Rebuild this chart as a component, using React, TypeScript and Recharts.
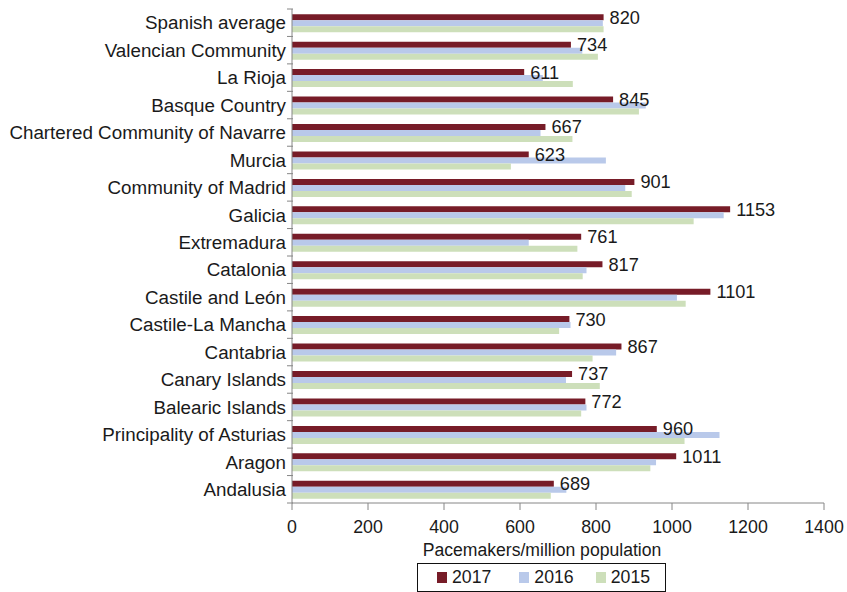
import React from "react";
import {
  BarChart,
  Bar,
  XAxis,
  YAxis,
  Legend,
  LabelList,
} from "recharts";

const regions = [
  "Spanish average",
  "Valencian Community",
  "La Rioja",
  "Basque Country",
  "Chartered Community of Navarre",
  "Murcia",
  "Community of Madrid",
  "Galicia",
  "Extremadura",
  "Catalonia",
  "Castile and León",
  "Castile-La Mancha",
  "Cantabria",
  "Canary Islands",
  "Balearic Islands",
  "Principality of Asturias",
  "Aragon",
  "Andalusia",
];

const years = ["2017", "2016", "2015"];

const values2017 = [820, 734, 611, 845, 667, 623, 901, 1153, 761, 817, 1101, 730, 867, 737, 772, 960, 1011, 689];
const values2016 = [818, 764, 660, 931, 654, 826, 877, 1136, 623, 775, 1013, 733, 853, 721, 775, 1125, 958, 722];
const values2015 = [820, 805, 739, 913, 738, 576, 894, 1057, 751, 765, 1036, 703, 791, 810, 761, 1033, 943, 681];

const xTicks = [0, 200, 400, 600, 800, 1000, 1200, 1400];

const FONT = "'Liberation Sans', Arial, sans-serif";
const TEXT = "#1a1a1a";
const AXIS = "#868686";

const chartData = regions.map((name, i) => ({
  name,
  y2017: values2017[i],
  y2016: values2016[i],
  y2015: values2015[i],
}));

// excel-style: tick marks sit on the band edges, labels in the middle
function RegionTick(props: any) {
  const { x, y, payload, index } = props;
  const half = payload && payload.offset ? payload.offset : 13.7;
  return (
    <g>
      <text
        x={x}
        y={y}
        dy="0.36em"
        textAnchor="end"
        fill={TEXT}
        fontSize={18.8}
        fontFamily={FONT}
      >
        {payload.value}
      </text>
      <line x1={x + 1} x2={x + 7} y1={y - half} y2={y - half} stroke={AXIS} />
      {index === regions.length - 1 && (
        <line x1={x + 1} x2={x + 7} y1={y + half} y2={y + half} stroke={AXIS} />
      )}
    </g>
  );
}

function LegendBox(props: any) {
  const items = [...(props.payload || [])].sort(
    (a: any, b: any) => years.indexOf(a.value) - years.indexOf(b.value)
  );
  return (
    <div
      style={{
        boxSizing: "border-box",
        width: 249,
        height: 29,
        border: "1px solid #111",
        display: "flex",
        alignItems: "center",
        paddingLeft: 19,
        fontFamily: FONT,
        fontSize: 17.7,
        color: TEXT,
      }}
    >
      {items.map((it: any, i: number) => (
        <div
          key={it.value}
          style={{ display: "flex", alignItems: "center", marginRight: i === 0 ? 28 : 22 }}
        >
          <span
            style={{
              display: "inline-block",
              width: 10,
              height: 11,
              background: it.color,
              marginRight: 5,
            }}
          />
          <span>{it.value}</span>
        </div>
      ))}
    </div>
  );
}

export default function App() {
  return (
    <div style={{ position: "absolute", left: 0, top: 0, fontFamily: FONT }}>
      <BarChart
        width={847}
        height={592}
        data={chartData}
        layout="vertical"
        margin={{ top: 9, right: 23, left: 0, bottom: 0 }}
        barCategoryGap="19%"
        barGap={0}
      >
        <XAxis
          type="number"
          domain={[0, 1400]}
          ticks={xTicks}
          interval={0}
          height={60}
          stroke={AXIS}
          tickSize={7}
          tickMargin={10}
          tick={{ fill: TEXT, fontSize: 17.8, fontFamily: FONT }}
          label={{
            content: ({ viewBox }: any) => (
              <text
                x={viewBox.x + viewBox.width / 2 - 16}
                y={viewBox.y + viewBox.height - 7}
                textAnchor="middle"
                fill={TEXT}
                fontSize={17.6}
                fontFamily={FONT}
              >
                Pacemakers/million population
              </text>
            ),
          }}
        />
        <YAxis
          type="category"
          dataKey="name"
          width={292}
          stroke={AXIS}
          tickLine={false}
          tickSize={6}
          tickMargin={0}
          interval={0}
          tick={<RegionTick />}
        />
        <Legend
          verticalAlign="bottom"
          content={<LegendBox />}
          wrapperStyle={{ left: 417, bottom: 0, width: 249, height: 29 }}
        />
        <Bar dataKey="y2017" name="2017" fill="#771c28" isAnimationActive={false}>
          <LabelList
            dataKey="y2017"
            position="right"
            offset={6}
            fill={TEXT}
            fontSize={18.2}
            fontFamily={FONT}
          />
        </Bar>
        <Bar dataKey="y2016" name="2016" fill="#b9c9ea" isAnimationActive={false} />
        <Bar dataKey="y2015" name="2015" fill="#cddfba" isAnimationActive={false} />
      </BarChart>
    </div>
  );
}
